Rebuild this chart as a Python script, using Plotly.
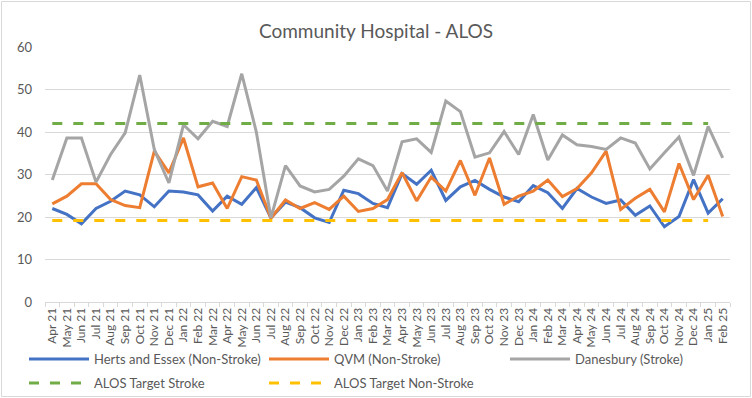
import plotly.graph_objects as go

months = ["Apr 21","May 21","Jun 21","Jul 21","Aug 21","Sep 21","Oct 21","Nov 21","Dec 21",
          "Jan 22","Feb 22","Mar 22","Apr 22","May 22","Jun 22","Jul 22","Aug 22","Sep 22","Oct 22","Nov 22","Dec 22",
          "Jan 23","Feb 23","Mar 23","Apr 23","May 23","Jun 23","Jul 23","Aug 23","Sep 23","Oct 23","Nov 23","Dec 23",
          "Jan 24","Feb 24","Mar 24","Apr 24","May 24","Jun 24","Jul 24","Aug 24","Sep 24","Oct 24","Nov 24","Dec 24",
          "Jan 25","Feb 25"]

herts_essex = [22.0, 20.6, 18.4, 22.0, 23.7, 26.1, 25.2, 22.4, 26.1, 25.9, 25.2, 21.4, 24.9, 23.0, 26.9,
               19.8, 23.5, 22.2, 19.8, 18.7, 26.3, 25.5, 23.2, 22.2, 30.2, 27.7, 31.0, 23.9, 27.1, 28.6,
               26.5, 24.7, 23.6, 27.4, 25.7, 22.0, 26.7, 24.7, 23.2, 24.0, 20.4, 22.6, 17.7, 20.1, 28.8,
               20.9, 24.3]

qvm = [23.1, 24.9, 27.8, 27.8, 24.1, 22.7, 22.2, 35.5, 30.4, 38.6, 27.1, 28.0, 22.0, 29.5, 28.7,
       19.7, 24.0, 22.0, 23.4, 21.8, 24.9, 21.3, 22.0, 24.1, 30.4, 23.8, 29.4, 26.1, 33.3, 25.1,
       33.9, 23.0, 24.9, 26.1, 28.7, 24.8, 26.7, 30.4, 35.5, 21.8, 24.4, 26.5, 21.2, 32.6, 24.1,
       29.8, 20.1]

danesbury = [28.7, 38.6, 38.6, 28.2, 34.7, 39.8, 53.4, 35.9, 28.0, 41.7, 38.4, 42.5, 41.3, 53.7, 40.0,
             19.8, 32.1, 27.3, 25.9, 26.5, 29.6, 33.7, 32.1, 26.1, 37.7, 38.4, 35.2, 47.3, 44.8, 34.1,
             35.1, 40.1, 34.7, 44.1, 33.4, 39.3, 37.0, 36.6, 35.9, 38.6, 37.4, 31.3, 35.1, 38.8, 29.8,
             41.3, 33.9]

target_stroke = [42] * 46
target_non_stroke = [19.2] * 46

W, H = 752, 398
L, R, T, B = 45, 22, 47, 96
PW, PH = W - L - R, H - T - B

font_family = "Lato, 'Open Sans', sans-serif"

series = [
    ("Herts and Essex (Non-Stroke)", herts_essex, "#4472C4", "solid", 24, 359),
    ("QVM (Non-Stroke)", qvm, "#ED7D31", "solid", 264, 359),
    ("Danesbury (Stroke)", danesbury, "#A5A5A5", "solid", 505, 359),
    ("ALOS Target Stroke", target_stroke, "#70AD47", "10px,11px", 24, 383),
    ("ALOS Target Non-Stroke", target_non_stroke, "#FFC000", "10px,11px", 264, 383),
]

fig = go.Figure()
legends = {}
for k, (name, vals, col, dash, lx, ly) in enumerate(series):
    lname = "legend" if k == 0 else f"legend{k + 1}"
    fig.add_trace(go.Scatter(x=months[:len(vals)], y=vals, name=name, mode="lines",
                             line=dict(color=col, width=3, dash=dash), legend=lname,
                             showlegend=True, hoverinfo="skip"))
    legends[lname] = dict(x=(lx - L) / PW, y=(T + PH - ly) / PH, xanchor="left", yanchor="middle",
                          orientation="h", font=dict(family=font_family, size=13, color="#595959"),
                          itemwidth=60, bgcolor="rgba(0,0,0,0)", borderwidth=0, visible=True)

fig.update_layout(
    width=W, height=H, showlegend=True,
    margin=dict(l=L, r=R, t=T, b=B, autoexpand=False),
    paper_bgcolor="white", plot_bgcolor="white",
    font=dict(family=font_family, color="#595959"),
    title=dict(text="Community Hospital - ALOS", x=0.5, xanchor="center",
               xref="container", yref="container", y=1 - 31 / H, yanchor="middle",
               font=dict(family=font_family, size=19, color="#595959")),
    xaxis=dict(type="category", tickangle=-90, tickfont=dict(size=12, color="#595959"),
               showgrid=False, showline=True, linecolor="#D9D9D9", linewidth=1,
               ticks="outside", ticklen=4, tickcolor="#D9D9D9", tickson="boundaries",
               range=[-0.5, len(months) - 0.5], fixedrange=True, automargin=False),
    yaxis=dict(range=[0, 60], dtick=10, tickfont=dict(size=13, color="#595959"),
               showgrid=True, gridcolor="#D9D9D9", gridwidth=1, zeroline=False,
               showline=False, ticks="", ticklabelstandoff=12, fixedrange=True, automargin=False),
    shapes=[dict(type="rect", xref="paper", yref="paper",
                 x0=(1.5 - L) / PW, x1=(W - 1.5 - L) / PW,
                 y0=-(H - 1.5 - T - PH) / PH, y1=(T - 1.5) / PH + 1,
                 line=dict(color="#D9D9D9", width=1), fillcolor="rgba(0,0,0,0)", layer="below")],
    **legends,
)

fig.write_html("out.html", config={"displayModeBar": False},
               post_script="document.body.style.margin='0';")
